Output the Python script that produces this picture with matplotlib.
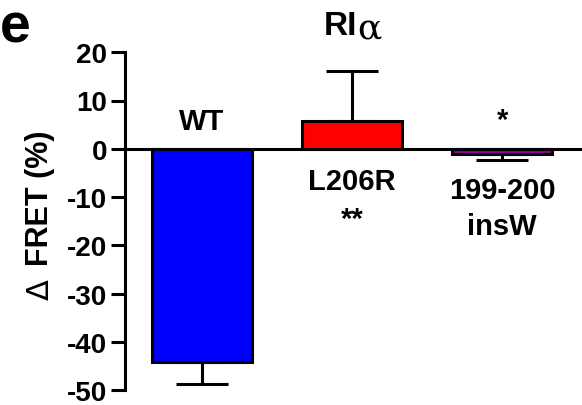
import matplotlib.pyplot as plt

# --- data ---
groups = ['WT', 'L206R', '199-200\ninsW']
means = [-44.2, 5.7, -1.1]
errs = [4.5, 10.5, 1.2]
colors = ['#0000ff', '#ff0000', '#990099']
yticks = [20, 10, 0, -10, -20, -30, -40, -50]

plt.rcParams['font.family'] = ['Liberation Sans', 'DejaVu Sans']

fig = plt.figure(figsize=(5.82, 4.06), dpi=100)
ax = fig.add_axes([0.2148, 0.036, 0.782, 0.833])

x = list(range(len(groups)))
ax.bar(x, means, width=0.667, color=colors, edgecolor='black', linewidth=2.2, zorder=2)

# error bars only in the direction of the bar
for xi, m, e in zip(x, means, errs):
    yerr = [[e], [0]] if m < 0 else [[0], [e]]
    ax.errorbar(xi, m, yerr=yerr, fmt='none', ecolor='black', elinewidth=2.2,
                capsize=19, capthick=2.2, zorder=1)

ax.set_xlim(-0.513, 2.52)
ax.set_ylim(-50, 20)
ax.set_yticks(yticks)
ax.set_yticklabels([str(t) for t in yticks], fontsize=20, fontweight='bold')
ax.tick_params(axis='y', length=10, width=2.2, pad=3)
ax.tick_params(axis='x', length=0, labelbottom=False)

ax.spines['top'].set_visible(False)
ax.spines['right'].set_visible(False)
ax.spines['left'].set_linewidth(2.2)
ax.spines['bottom'].set_position(('data', 0))
ax.spines['bottom'].set_linewidth(2.2)
ax.spines['bottom'].set_zorder(3)

# group labels
lab = dict(ha='center', va='center', fontsize=21, fontweight='bold')
ax.text(0, 5.7, 'WT', **lab)
ax.text(1, -6.7, 'L206R', **lab)
ax.text(1, -14.6, '**', **lab)
ax.text(2, 6.0, '*', **lab)
line1, line2 = groups[2].split('\n')
ax.text(2, -8.5, line1, **lab)
ax.text(2, -15.9, line2, **lab)

# y label: thin delta + bold text
ax.text(-0.187, 0.57, 'FRET (%)', transform=ax.transAxes, rotation=90,
        ha='center', va='center', fontsize=22, fontweight='bold')
ax.text(-0.187, 0.30, '\u0394', transform=ax.transAxes, rotation=90,
        ha='center', va='center', fontsize=22, family=['DejaVu Sans'])

fig.text(0.613, 0.935, 'RI', ha='right', va='center', fontsize=24, fontweight='bold')
fig.text(0.613, 0.930, '\u03b1', ha='left', va='center', fontsize=26, family=['DejaVu Serif'])
fig.text(0.0, 0.93, 'e', ha='left', va='center', fontsize=40, fontweight='bold')

fig.savefig('out.png', dpi=100)
